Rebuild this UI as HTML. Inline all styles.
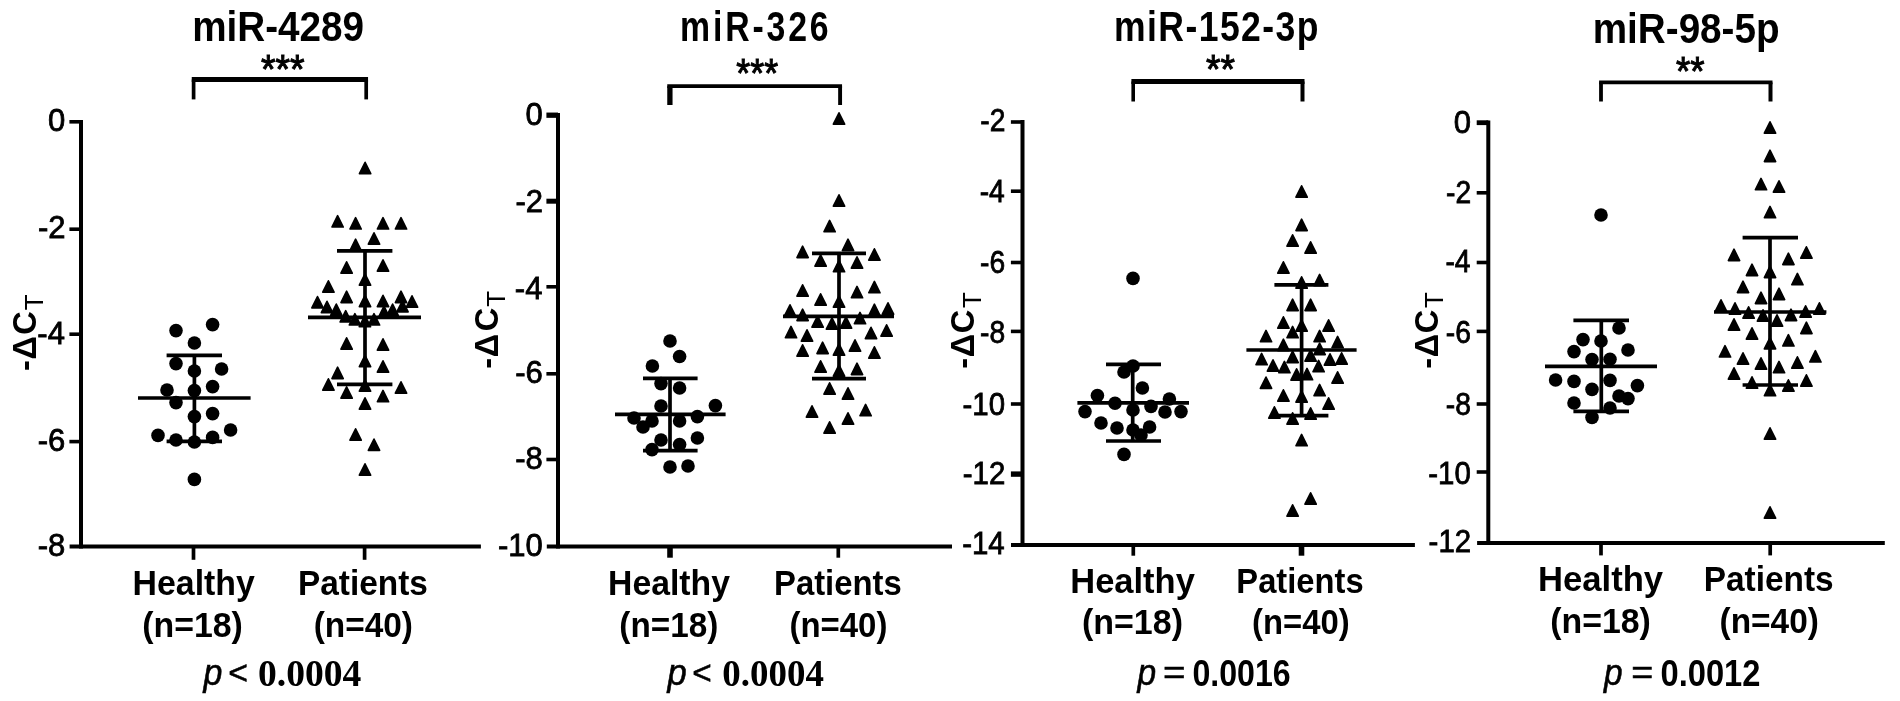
<!DOCTYPE html>
<html><head><meta charset="utf-8"><title>miRNA expression</title>
<style>
html,body{margin:0;padding:0;background:#fff;}
body{width:1900px;height:701px;overflow:hidden;}
svg{display:block;filter:blur(0.45px);}
svg text{font-kerning:none;fill:#000;}
svg line,svg path{stroke:#000;}
svg circle{fill:#000;stroke:none;}
svg path.t{stroke-width:1.6;stroke-linejoin:round;}
svg text.r{stroke:#000;stroke-width:0.8px;}
svg text.st{stroke:#000;stroke-width:2.5px;}
svg text.r2{stroke:#000;stroke-width:1.6px;}
</style></head><body>
<svg width="1900" height="701" viewBox="0 0 1900 701" fill="#000" stroke="none">
<rect x="0" y="0" width="1900" height="701" fill="#fff" stroke="none"/>
<g>
<line x1="81.00" y1="120.00" x2="81.00" y2="548.60" stroke-width="4.00"/>
<line x1="69.60" y1="546.60" x2="480.90" y2="546.60" stroke-width="4.00"/>
<line x1="69.40" y1="121.80" x2="81.00" y2="121.80" stroke-width="3.60"/>
<text transform="translate(47.97 130.65) scale(1.0000 1)" font-family='"Liberation Sans", sans-serif' font-weight="normal" font-style="normal" font-size="31.00" class="r">0</text>
<line x1="69.40" y1="229.20" x2="81.00" y2="229.20" stroke-width="3.60"/>
<text transform="translate(38.00 238.05) scale(1.0000 1)" font-family='"Liberation Sans", sans-serif' font-weight="normal" font-style="normal" font-size="31.00" class="r">-2</text>
<line x1="69.40" y1="334.20" x2="81.00" y2="334.20" stroke-width="3.60"/>
<text transform="translate(37.34 343.75) scale(1.0000 1)" font-family='"Liberation Sans", sans-serif' font-weight="normal" font-style="normal" font-size="31.00" class="r">-4</text>
<line x1="69.40" y1="441.60" x2="81.00" y2="441.60" stroke-width="3.60"/>
<text transform="translate(37.80 450.75) scale(1.0000 1)" font-family='"Liberation Sans", sans-serif' font-weight="normal" font-style="normal" font-size="31.00" class="r">-6</text>
<text transform="translate(37.78 555.95) scale(1.0000 1)" font-family='"Liberation Sans", sans-serif' font-weight="normal" font-style="normal" font-size="31.00" class="r">-8</text>
<line x1="193.50" y1="546.60" x2="193.50" y2="559.80" stroke-width="3.70"/>
<line x1="364.60" y1="546.60" x2="364.60" y2="559.80" stroke-width="3.70"/>
<text transform="translate(192.15 41.10) scale(0.9031 1)" font-family='"Liberation Sans", sans-serif' font-weight="bold" font-style="normal" font-size="42.80">miR-4289</text>
<text transform="translate(261.00 83.02) scale(0.3733 0.4130)" font-family='"Liberation Sans", sans-serif' font-weight="normal" font-style="normal" font-size="100" class="st">***</text>
<line x1="191.75" y1="79.50" x2="368.05" y2="79.50" stroke-width="5.00"/>
<line x1="193.60" y1="79.50" x2="193.60" y2="99.40" stroke-width="3.70"/>
<line x1="366.20" y1="79.50" x2="366.20" y2="99.40" stroke-width="3.70"/>
<text transform="translate(132.53 595.00) scale(0.9568 1)" font-family='"Liberation Sans", sans-serif' font-weight="bold" font-style="normal" font-size="35.40">Healthy</text>
<text transform="translate(142.21 636.60) scale(0.9565 1)" font-family='"Liberation Sans", sans-serif' font-weight="bold" font-style="normal" font-size="35.40">(n=18)</text>
<text transform="translate(297.97 595.00) scale(0.9433 1)" font-family='"Liberation Sans", sans-serif' font-weight="bold" font-style="normal" font-size="35.40">Patients</text>
<text transform="translate(313.64 636.60) scale(0.9437 1)" font-family='"Liberation Sans", sans-serif' font-weight="bold" font-style="normal" font-size="35.40">(n=40)</text>
<text transform="translate(203.54 685.03) scale(0.3389 0.3742)" font-family='"Liberation Sans", sans-serif' font-weight="normal" font-style="italic" font-size="100" class="r2">p</text>
<text transform="translate(228.14 684.13) scale(0.3376 0.3367)" font-family='"Liberation Sans", sans-serif' font-weight="normal" font-style="normal" font-size="100" class="r2">&lt;</text>
<text transform="translate(257.97 685.80) scale(0.9719 1)" font-family='"Liberation Serif", serif' font-weight="bold" font-style="normal" font-size="38.70">0.0004</text>
<text transform="translate(35.60 0) rotate(-90)" x="-370.96 -359.41 -334.79" y="0" font-family='"Liberation Sans", sans-serif' font-weight="bold" font-size="32.6">-ΔC<tspan class="r" x="-310.23" y="7.20" font-weight="normal" font-size="26.0">T</tspan></text>
<circle cx="176.00" cy="330.60" r="6.80"/>
<circle cx="212.60" cy="324.60" r="6.80"/>
<circle cx="194.40" cy="343.00" r="6.80"/>
<circle cx="176.00" cy="363.60" r="6.80"/>
<circle cx="194.40" cy="371.00" r="6.80"/>
<circle cx="221.60" cy="369.00" r="6.80"/>
<circle cx="167.00" cy="390.00" r="6.80"/>
<circle cx="194.40" cy="390.60" r="6.80"/>
<circle cx="212.60" cy="386.60" r="6.80"/>
<circle cx="176.00" cy="402.60" r="6.80"/>
<circle cx="194.40" cy="416.60" r="6.80"/>
<circle cx="212.60" cy="413.60" r="6.80"/>
<circle cx="230.60" cy="430.00" r="6.80"/>
<circle cx="158.00" cy="435.40" r="6.80"/>
<circle cx="176.00" cy="440.00" r="6.80"/>
<circle cx="194.40" cy="442.00" r="6.80"/>
<circle cx="212.60" cy="437.40" r="6.80"/>
<circle cx="194.40" cy="479.40" r="6.80"/>
<path class="t" d="M365.10 162.30L370.76 173.70L359.44 173.70Z"/>
<path class="t" d="M337.60 215.60L343.26 227.00L331.94 227.00Z"/>
<path class="t" d="M355.60 217.60L361.26 229.00L349.94 229.00Z"/>
<path class="t" d="M383.00 217.60L388.66 229.00L377.34 229.00Z"/>
<path class="t" d="M401.00 217.60L406.66 229.00L395.34 229.00Z"/>
<path class="t" d="M374.00 232.80L379.66 244.20L368.34 244.20Z"/>
<path class="t" d="M355.60 239.20L361.26 250.60L349.94 250.60Z"/>
<path class="t" d="M346.60 261.80L352.26 273.20L340.94 273.20Z"/>
<path class="t" d="M383.00 259.80L388.66 271.20L377.34 271.20Z"/>
<path class="t" d="M365.00 273.80L370.66 285.20L359.34 285.20Z"/>
<path class="t" d="M328.40 280.80L334.06 292.20L322.74 292.20Z"/>
<path class="t" d="M346.60 291.20L352.26 302.60L340.94 302.60Z"/>
<path class="t" d="M365.00 295.30L370.66 306.70L359.34 306.70Z"/>
<path class="t" d="M317.50 296.50L323.16 307.90L311.84 307.90Z"/>
<path class="t" d="M383.00 295.30L388.66 306.70L377.34 306.70Z"/>
<path class="t" d="M401.00 291.20L406.66 302.60L395.34 302.60Z"/>
<path class="t" d="M412.00 295.80L417.66 307.20L406.34 307.20Z"/>
<path class="t" d="M327.00 301.30L332.66 312.70L321.34 312.70Z"/>
<path class="t" d="M336.30 304.00L341.96 315.40L330.64 315.40Z"/>
<path class="t" d="M402.50 300.50L408.16 311.90L396.84 311.90Z"/>
<path class="t" d="M392.60 304.00L398.26 315.40L386.94 315.40Z"/>
<path class="t" d="M384.00 306.20L389.66 317.60L378.34 317.60Z"/>
<path class="t" d="M345.70 310.60L351.36 322.00L340.04 322.00Z"/>
<path class="t" d="M354.90 313.60L360.56 325.00L349.24 325.00Z"/>
<path class="t" d="M364.90 315.30L370.56 326.70L359.24 326.70Z"/>
<path class="t" d="M374.00 313.60L379.66 325.00L368.34 325.00Z"/>
<path class="t" d="M346.60 337.80L352.26 349.20L340.94 349.20Z"/>
<path class="t" d="M383.00 338.80L388.66 350.20L377.34 350.20Z"/>
<path class="t" d="M365.00 355.30L370.66 366.70L359.34 366.70Z"/>
<path class="t" d="M383.00 360.80L388.66 372.20L377.34 372.20Z"/>
<path class="t" d="M337.60 367.20L343.26 378.60L331.94 378.60Z"/>
<path class="t" d="M328.40 378.80L334.06 390.20L322.74 390.20Z"/>
<path class="t" d="M365.00 379.80L370.66 391.20L359.34 391.20Z"/>
<path class="t" d="M401.00 381.80L406.66 393.20L395.34 393.20Z"/>
<path class="t" d="M346.60 386.80L352.26 398.20L340.94 398.20Z"/>
<path class="t" d="M383.00 390.40L388.66 401.80L377.34 401.80Z"/>
<path class="t" d="M365.00 397.80L370.66 409.20L359.34 409.20Z"/>
<path class="t" d="M355.60 428.80L361.26 440.20L349.94 440.20Z"/>
<path class="t" d="M374.00 439.00L379.66 450.40L368.34 450.40Z"/>
<path class="t" d="M365.00 463.80L370.66 475.20L359.34 475.20Z"/>
<line x1="194.40" y1="355.40" x2="194.40" y2="441.40" stroke-width="3.70"/>
<line x1="166.60" y1="355.40" x2="222.00" y2="355.40" stroke-width="3.70"/>
<line x1="166.60" y1="441.40" x2="222.00" y2="441.40" stroke-width="3.70"/>
<line x1="138.00" y1="398.00" x2="250.60" y2="398.00" stroke-width="3.70"/>
<line x1="365.00" y1="250.80" x2="365.00" y2="384.40" stroke-width="3.70"/>
<line x1="337.00" y1="250.80" x2="392.40" y2="250.80" stroke-width="3.70"/>
<line x1="337.00" y1="384.40" x2="392.40" y2="384.40" stroke-width="3.70"/>
<line x1="308.00" y1="317.40" x2="421.00" y2="317.40" stroke-width="3.70"/>
</g>
<g>
<line x1="558.00" y1="113.00" x2="558.00" y2="548.60" stroke-width="4.00"/>
<line x1="546.80" y1="546.60" x2="952.00" y2="546.60" stroke-width="4.00"/>
<line x1="546.40" y1="115.20" x2="558.00" y2="115.20" stroke-width="5.30"/>
<text transform="translate(525.47 125.15) scale(1.0000 1)" font-family='"Liberation Sans", sans-serif' font-weight="normal" font-style="normal" font-size="31.00" class="r">0</text>
<line x1="546.40" y1="201.20" x2="558.00" y2="201.20" stroke-width="5.00"/>
<text transform="translate(515.50 211.75) scale(1.0000 1)" font-family='"Liberation Sans", sans-serif' font-weight="normal" font-style="normal" font-size="31.00" class="r">-2</text>
<line x1="546.40" y1="286.80" x2="558.00" y2="286.80" stroke-width="3.60"/>
<text transform="translate(514.84 298.55) scale(1.0000 1)" font-family='"Liberation Sans", sans-serif' font-weight="normal" font-style="normal" font-size="31.00" class="r">-4</text>
<line x1="546.40" y1="373.80" x2="558.00" y2="373.80" stroke-width="3.60"/>
<text transform="translate(515.30 382.65) scale(1.0000 1)" font-family='"Liberation Sans", sans-serif' font-weight="normal" font-style="normal" font-size="31.00" class="r">-6</text>
<line x1="546.40" y1="459.50" x2="558.00" y2="459.50" stroke-width="3.60"/>
<text transform="translate(515.28 469.05) scale(1.0000 1)" font-family='"Liberation Sans", sans-serif' font-weight="normal" font-style="normal" font-size="31.00" class="r">-8</text>
<text transform="translate(497.91 555.75) scale(1.0000 1)" font-family='"Liberation Sans", sans-serif' font-weight="normal" font-style="normal" font-size="31.00" class="r">-10</text>
<line x1="670.00" y1="546.60" x2="670.00" y2="557.70" stroke-width="5.60"/>
<line x1="838.30" y1="546.60" x2="838.30" y2="557.70" stroke-width="3.70"/>
<text transform="translate(679.97 41.20) scale(0.7900 1)" letter-spacing="3.629" font-family='"Liberation Sans", sans-serif' font-weight="bold" font-style="normal" font-size="42.80">miR-326</text>
<text transform="translate(736.32 86.62) scale(0.3575 0.4102)" font-family='"Liberation Sans", sans-serif' font-weight="normal" font-style="normal" font-size="100" class="st">***</text>
<line x1="667.25" y1="86.20" x2="842.05" y2="86.20" stroke-width="3.70"/>
<line x1="669.90" y1="86.20" x2="669.90" y2="105.00" stroke-width="5.30"/>
<line x1="840.10" y1="86.20" x2="840.10" y2="105.00" stroke-width="3.90"/>
<text transform="translate(608.04 594.80) scale(0.9536 1)" font-family='"Liberation Sans", sans-serif' font-weight="bold" font-style="normal" font-size="35.40">Healthy</text>
<text transform="translate(619.34 636.60) scale(0.9408 1)" font-family='"Liberation Sans", sans-serif' font-weight="bold" font-style="normal" font-size="35.40">(n=18)</text>
<text transform="translate(774.00 594.80) scale(0.9284 1)" font-family='"Liberation Sans", sans-serif' font-weight="bold" font-style="normal" font-size="35.40">Patients</text>
<text transform="translate(789.46 636.60) scale(0.9310 1)" font-family='"Liberation Sans", sans-serif' font-weight="bold" font-style="normal" font-size="35.40">(n=40)</text>
<text transform="translate(667.46 685.03) scale(0.3444 0.3742)" font-family='"Liberation Sans", sans-serif' font-weight="normal" font-style="italic" font-size="100" class="r2">p</text>
<text transform="translate(692.36 684.13) scale(0.3334 0.3367)" font-family='"Liberation Sans", sans-serif' font-weight="normal" font-style="normal" font-size="100" class="r2">&lt;</text>
<text transform="translate(722.29 685.80) scale(0.9546 1)" font-family='"Liberation Serif", serif' font-weight="bold" font-style="normal" font-size="38.70">0.0004</text>
<text transform="translate(498.10 0) rotate(-90)" x="-368.81 -357.31 -331.34" y="0" font-family='"Liberation Sans", sans-serif' font-weight="bold" font-size="32.6">-ΔC<tspan class="r" x="-306.63" y="7.30" font-weight="normal" font-size="26.0">T</tspan></text>
<circle cx="670.00" cy="341.00" r="6.80"/>
<circle cx="679.60" cy="356.50" r="6.80"/>
<circle cx="652.40" cy="366.00" r="6.80"/>
<circle cx="661.00" cy="383.60" r="6.80"/>
<circle cx="679.60" cy="388.00" r="6.80"/>
<circle cx="661.00" cy="406.00" r="6.80"/>
<circle cx="715.40" cy="405.60" r="6.80"/>
<circle cx="634.00" cy="418.00" r="6.80"/>
<circle cx="652.00" cy="421.00" r="6.80"/>
<circle cx="643.00" cy="427.00" r="6.80"/>
<circle cx="679.60" cy="421.00" r="6.80"/>
<circle cx="697.40" cy="416.60" r="6.80"/>
<circle cx="661.00" cy="440.00" r="6.80"/>
<circle cx="697.40" cy="438.00" r="6.80"/>
<circle cx="679.60" cy="444.60" r="6.80"/>
<circle cx="652.00" cy="449.60" r="6.80"/>
<circle cx="670.00" cy="467.00" r="6.80"/>
<circle cx="688.00" cy="466.00" r="6.80"/>
<path class="t" d="M839.00 112.80L844.66 124.20L833.34 124.20Z"/>
<path class="t" d="M839.00 194.80L844.66 206.20L833.34 206.20Z"/>
<path class="t" d="M829.60 220.40L835.26 231.80L823.94 231.80Z"/>
<path class="t" d="M848.00 239.20L853.66 250.60L842.34 250.60Z"/>
<path class="t" d="M802.60 246.20L808.26 257.60L796.94 257.60Z"/>
<path class="t" d="M874.40 248.80L880.06 260.20L868.74 260.20Z"/>
<path class="t" d="M820.60 254.80L826.26 266.20L814.94 266.20Z"/>
<path class="t" d="M857.00 256.80L862.66 268.20L851.34 268.20Z"/>
<path class="t" d="M839.00 260.40L844.66 271.80L833.34 271.80Z"/>
<path class="t" d="M802.60 284.80L808.26 296.20L796.94 296.20Z"/>
<path class="t" d="M874.40 281.40L880.06 292.80L868.74 292.80Z"/>
<path class="t" d="M857.00 286.40L862.66 297.80L851.34 297.80Z"/>
<path class="t" d="M820.60 293.80L826.26 305.20L814.94 305.20Z"/>
<path class="t" d="M839.00 295.80L844.66 307.20L833.34 307.20Z"/>
<path class="t" d="M790.00 304.80L795.66 316.20L784.34 316.20Z"/>
<path class="t" d="M888.00 302.80L893.66 314.20L882.34 314.20Z"/>
<path class="t" d="M802.60 309.20L808.26 320.60L796.94 320.60Z"/>
<path class="t" d="M874.40 304.20L880.06 315.60L868.74 315.60Z"/>
<path class="t" d="M860.00 312.40L865.66 323.80L854.34 323.80Z"/>
<path class="t" d="M817.60 315.80L823.26 327.20L811.94 327.20Z"/>
<path class="t" d="M832.00 317.80L837.66 329.20L826.34 329.20Z"/>
<path class="t" d="M846.00 316.80L851.66 328.20L840.34 328.20Z"/>
<path class="t" d="M791.00 326.40L796.66 337.80L785.34 337.80Z"/>
<path class="t" d="M807.00 329.80L812.66 341.20L801.34 341.20Z"/>
<path class="t" d="M871.00 327.30L876.66 338.70L865.34 338.70Z"/>
<path class="t" d="M886.60 324.80L892.26 336.20L880.94 336.20Z"/>
<path class="t" d="M802.60 344.80L808.26 356.20L796.94 356.20Z"/>
<path class="t" d="M822.60 342.20L828.26 353.60L816.94 353.60Z"/>
<path class="t" d="M839.00 343.80L844.66 355.20L833.34 355.20Z"/>
<path class="t" d="M855.00 339.80L860.66 351.20L849.34 351.20Z"/>
<path class="t" d="M874.40 346.80L880.06 358.20L868.74 358.20Z"/>
<path class="t" d="M820.60 360.80L826.26 372.20L814.94 372.20Z"/>
<path class="t" d="M839.00 364.80L844.66 376.20L833.34 376.20Z"/>
<path class="t" d="M857.00 363.20L862.66 374.60L851.34 374.60Z"/>
<path class="t" d="M829.60 382.80L835.26 394.20L823.94 394.20Z"/>
<path class="t" d="M848.00 387.80L853.66 399.20L842.34 399.20Z"/>
<path class="t" d="M812.00 405.80L817.66 417.20L806.34 417.20Z"/>
<path class="t" d="M865.60 404.40L871.26 415.80L859.94 415.80Z"/>
<path class="t" d="M848.00 412.80L853.66 424.20L842.34 424.20Z"/>
<path class="t" d="M829.60 421.80L835.26 433.20L823.94 433.20Z"/>
<line x1="670.00" y1="378.40" x2="670.00" y2="450.60" stroke-width="3.70"/>
<line x1="643.00" y1="378.40" x2="697.60" y2="378.40" stroke-width="3.70"/>
<line x1="643.00" y1="450.60" x2="697.60" y2="450.60" stroke-width="3.70"/>
<line x1="615.00" y1="414.40" x2="725.60" y2="414.40" stroke-width="3.70"/>
<line x1="839.00" y1="253.40" x2="839.00" y2="378.60" stroke-width="3.70"/>
<line x1="812.00" y1="253.40" x2="866.00" y2="253.40" stroke-width="3.70"/>
<line x1="812.00" y1="378.60" x2="866.00" y2="378.60" stroke-width="3.70"/>
<line x1="783.00" y1="316.40" x2="894.00" y2="316.40" stroke-width="3.70"/>
</g>
<g>
<line x1="1022.50" y1="120.10" x2="1022.50" y2="546.90" stroke-width="4.00"/>
<line x1="1011.00" y1="544.90" x2="1414.90" y2="544.90" stroke-width="4.00"/>
<line x1="1010.90" y1="122.00" x2="1022.50" y2="122.00" stroke-width="3.60"/>
<text transform="translate(980.24 130.65) scale(0.9100 1)" font-family='"Liberation Sans", sans-serif' font-weight="normal" font-style="normal" font-size="31.00" class="r">-2</text>
<line x1="1010.90" y1="191.20" x2="1022.50" y2="191.20" stroke-width="3.60"/>
<text transform="translate(979.64 202.35) scale(0.9100 1)" font-family='"Liberation Sans", sans-serif' font-weight="normal" font-style="normal" font-size="31.00" class="r">-4</text>
<line x1="1010.90" y1="262.50" x2="1022.50" y2="262.50" stroke-width="3.60"/>
<text transform="translate(980.06 272.75) scale(0.9100 1)" font-family='"Liberation Sans", sans-serif' font-weight="normal" font-style="normal" font-size="31.00" class="r">-6</text>
<line x1="1010.90" y1="331.40" x2="1022.50" y2="331.40" stroke-width="3.60"/>
<text transform="translate(980.04 342.95) scale(0.9100 1)" font-family='"Liberation Sans", sans-serif' font-weight="normal" font-style="normal" font-size="31.00" class="r">-8</text>
<line x1="1010.90" y1="404.00" x2="1022.50" y2="404.00" stroke-width="3.60"/>
<text transform="translate(962.49 414.75) scale(0.9500 1)" font-family='"Liberation Sans", sans-serif' font-weight="normal" font-style="normal" font-size="31.00" class="r">-10</text>
<line x1="1010.90" y1="474.10" x2="1022.50" y2="474.10" stroke-width="5.40"/>
<text transform="translate(962.82 484.15) scale(0.9500 1)" font-family='"Liberation Sans", sans-serif' font-weight="normal" font-style="normal" font-size="31.00" class="r">-12</text>
<text transform="translate(962.20 553.65) scale(0.9500 1)" font-family='"Liberation Sans", sans-serif' font-weight="normal" font-style="normal" font-size="31.00" class="r">-14</text>
<line x1="1133.30" y1="544.90" x2="1133.30" y2="555.70" stroke-width="3.70"/>
<line x1="1301.50" y1="544.90" x2="1301.50" y2="555.70" stroke-width="5.60"/>
<text transform="translate(1113.96 41.00) scale(0.8300 1)" letter-spacing="1.741" font-family='"Liberation Sans", sans-serif' font-weight="bold" font-style="normal" font-size="42.80">miR-152-3p</text>
<text transform="translate(1206.00 82.73) scale(0.3710 0.4045)" font-family='"Liberation Sans", sans-serif' font-weight="normal" font-style="normal" font-size="100" class="st">**</text>
<line x1="1131.40" y1="81.50" x2="1304.50" y2="81.50" stroke-width="5.00"/>
<line x1="1133.20" y1="81.50" x2="1133.20" y2="101.50" stroke-width="3.60"/>
<line x1="1302.50" y1="81.50" x2="1302.50" y2="101.50" stroke-width="4.00"/>
<text transform="translate(1070.29 593.40) scale(0.9743 1)" font-family='"Liberation Sans", sans-serif' font-weight="bold" font-style="normal" font-size="35.40">Healthy</text>
<text transform="translate(1081.91 634.40) scale(0.9605 1)" font-family='"Liberation Sans", sans-serif' font-weight="bold" font-style="normal" font-size="35.40">(n=18)</text>
<text transform="translate(1236.31 593.40) scale(0.9246 1)" font-family='"Liberation Sans", sans-serif' font-weight="bold" font-style="normal" font-size="35.40">Patients</text>
<text transform="translate(1252.07 634.40) scale(0.9270 1)" font-family='"Liberation Sans", sans-serif' font-weight="bold" font-style="normal" font-size="35.40">(n=40)</text>
<text transform="translate(1137.43 684.93) scale(0.3353 0.3742)" font-family='"Liberation Sans", sans-serif' font-weight="normal" font-style="italic" font-size="100" class="r2">p</text>
<text transform="translate(1163.12 684.03) scale(0.3849 0.3413)" font-family='"Liberation Sans", sans-serif' font-weight="normal" font-style="normal" font-size="100" class="r2">=</text>
<text transform="translate(1192.43 685.70) scale(0.8847 1)" font-family='"Liberation Sans", sans-serif' font-weight="bold" font-style="normal" font-size="36.30">0.0016</text>
<text transform="translate(973.80 0) rotate(-90)" x="-368.81 -357.31 -333.19" y="0" font-family='"Liberation Sans", sans-serif' font-weight="bold" font-size="32.6">-ΔC<tspan class="r" x="-308.03" y="7.30" font-weight="normal" font-size="26.0">T</tspan></text>
<circle cx="1133.00" cy="278.40" r="6.80"/>
<circle cx="1133.00" cy="366.00" r="6.80"/>
<circle cx="1124.00" cy="372.00" r="6.80"/>
<circle cx="1142.40" cy="388.00" r="6.80"/>
<circle cx="1097.40" cy="395.50" r="6.80"/>
<circle cx="1169.40" cy="399.00" r="6.80"/>
<circle cx="1115.00" cy="403.30" r="6.80"/>
<circle cx="1151.00" cy="406.40" r="6.80"/>
<circle cx="1085.00" cy="411.60" r="6.80"/>
<circle cx="1133.00" cy="410.00" r="6.80"/>
<circle cx="1165.00" cy="412.00" r="6.80"/>
<circle cx="1181.00" cy="411.60" r="6.80"/>
<circle cx="1101.00" cy="423.00" r="6.80"/>
<circle cx="1117.00" cy="428.00" r="6.80"/>
<circle cx="1149.60" cy="427.00" r="6.80"/>
<circle cx="1133.00" cy="430.00" r="6.80"/>
<circle cx="1141.00" cy="435.00" r="6.80"/>
<circle cx="1124.00" cy="454.40" r="6.80"/>
<path class="t" d="M1301.60 185.80L1307.26 197.20L1295.94 197.20Z"/>
<path class="t" d="M1301.60 219.20L1307.26 230.60L1295.94 230.60Z"/>
<path class="t" d="M1292.60 234.80L1298.26 246.20L1286.94 246.20Z"/>
<path class="t" d="M1310.60 241.80L1316.26 253.20L1304.94 253.20Z"/>
<path class="t" d="M1283.40 261.80L1289.06 273.20L1277.74 273.20Z"/>
<path class="t" d="M1301.60 276.80L1307.26 288.20L1295.94 288.20Z"/>
<path class="t" d="M1319.60 274.40L1325.26 285.80L1313.94 285.80Z"/>
<path class="t" d="M1292.60 299.20L1298.26 310.60L1286.94 310.60Z"/>
<path class="t" d="M1310.60 299.20L1316.26 310.60L1304.94 310.60Z"/>
<path class="t" d="M1283.40 316.80L1289.06 328.20L1277.74 328.20Z"/>
<path class="t" d="M1301.60 319.80L1307.26 331.20L1295.94 331.20Z"/>
<path class="t" d="M1328.60 319.80L1334.26 331.20L1322.94 331.20Z"/>
<path class="t" d="M1292.60 326.40L1298.26 337.80L1286.94 337.80Z"/>
<path class="t" d="M1266.00 330.40L1271.66 341.80L1260.34 341.80Z"/>
<path class="t" d="M1319.60 330.40L1325.26 341.80L1313.94 341.80Z"/>
<path class="t" d="M1283.40 339.20L1289.06 350.60L1277.74 350.60Z"/>
<path class="t" d="M1337.60 336.40L1343.26 347.80L1331.94 347.80Z"/>
<path class="t" d="M1319.60 343.20L1325.26 354.60L1313.94 354.60Z"/>
<path class="t" d="M1261.60 353.40L1267.26 364.80L1255.94 364.80Z"/>
<path class="t" d="M1292.60 351.20L1298.26 362.60L1286.94 362.60Z"/>
<path class="t" d="M1310.60 349.80L1316.26 361.20L1304.94 361.20Z"/>
<path class="t" d="M1330.00 353.80L1335.66 365.20L1324.34 365.20Z"/>
<path class="t" d="M1341.60 352.80L1347.26 364.20L1335.94 364.20Z"/>
<path class="t" d="M1273.00 359.80L1278.66 371.20L1267.34 371.20Z"/>
<path class="t" d="M1284.40 361.40L1290.06 372.80L1278.74 372.80Z"/>
<path class="t" d="M1318.60 360.40L1324.26 371.80L1312.94 371.80Z"/>
<path class="t" d="M1296.60 368.80L1302.26 380.20L1290.94 380.20Z"/>
<path class="t" d="M1307.00 368.40L1312.66 379.80L1301.34 379.80Z"/>
<path class="t" d="M1266.00 377.00L1271.66 388.40L1260.34 388.40Z"/>
<path class="t" d="M1337.60 371.80L1343.26 383.20L1331.94 383.20Z"/>
<path class="t" d="M1319.60 384.40L1325.26 395.80L1313.94 395.80Z"/>
<path class="t" d="M1283.40 389.80L1289.06 401.20L1277.74 401.20Z"/>
<path class="t" d="M1301.60 390.80L1307.26 402.20L1295.94 402.20Z"/>
<path class="t" d="M1328.60 397.80L1334.26 409.20L1322.94 409.20Z"/>
<path class="t" d="M1274.40 406.80L1280.06 418.20L1268.74 418.20Z"/>
<path class="t" d="M1310.60 407.80L1316.26 419.20L1304.94 419.20Z"/>
<path class="t" d="M1292.60 412.80L1298.26 424.20L1286.94 424.20Z"/>
<path class="t" d="M1301.60 434.40L1307.26 445.80L1295.94 445.80Z"/>
<path class="t" d="M1310.60 492.80L1316.26 504.20L1304.94 504.20Z"/>
<path class="t" d="M1292.60 504.80L1298.26 516.20L1286.94 516.20Z"/>
<line x1="1132.70" y1="364.40" x2="1132.70" y2="441.00" stroke-width="3.70"/>
<line x1="1106.00" y1="364.40" x2="1161.00" y2="364.40" stroke-width="3.70"/>
<line x1="1106.00" y1="441.00" x2="1161.00" y2="441.00" stroke-width="3.70"/>
<line x1="1077.40" y1="402.80" x2="1189.00" y2="402.80" stroke-width="3.70"/>
<line x1="1301.60" y1="284.80" x2="1301.60" y2="415.60" stroke-width="3.70"/>
<line x1="1274.40" y1="284.80" x2="1328.40" y2="284.80" stroke-width="3.70"/>
<line x1="1274.40" y1="415.60" x2="1328.40" y2="415.60" stroke-width="3.70"/>
<line x1="1246.40" y1="350.00" x2="1356.60" y2="350.00" stroke-width="3.70"/>
</g>
<g>
<line x1="1488.30" y1="120.40" x2="1488.30" y2="544.90" stroke-width="4.00"/>
<line x1="1477.10" y1="542.90" x2="1884.80" y2="542.90" stroke-width="4.00"/>
<line x1="1476.70" y1="122.70" x2="1488.30" y2="122.70" stroke-width="4.80"/>
<text transform="translate(1453.67 132.65) scale(1.0000 1)" font-family='"Liberation Sans", sans-serif' font-weight="normal" font-style="normal" font-size="31.00" class="r">0</text>
<line x1="1476.70" y1="192.80" x2="1488.30" y2="192.80" stroke-width="3.60"/>
<text transform="translate(1446.04 203.15) scale(0.9100 1)" font-family='"Liberation Sans", sans-serif' font-weight="normal" font-style="normal" font-size="31.00" class="r">-2</text>
<line x1="1476.70" y1="262.50" x2="1488.30" y2="262.50" stroke-width="3.60"/>
<text transform="translate(1445.44 271.85) scale(0.9100 1)" font-family='"Liberation Sans", sans-serif' font-weight="normal" font-style="normal" font-size="31.00" class="r">-4</text>
<line x1="1476.70" y1="331.40" x2="1488.30" y2="331.40" stroke-width="3.60"/>
<text transform="translate(1445.86 342.65) scale(0.9100 1)" font-family='"Liberation Sans", sans-serif' font-weight="normal" font-style="normal" font-size="31.00" class="r">-6</text>
<line x1="1476.70" y1="404.00" x2="1488.30" y2="404.00" stroke-width="3.60"/>
<text transform="translate(1445.84 415.45) scale(0.9100 1)" font-family='"Liberation Sans", sans-serif' font-weight="normal" font-style="normal" font-size="31.00" class="r">-8</text>
<line x1="1476.70" y1="472.00" x2="1488.30" y2="472.00" stroke-width="3.60"/>
<text transform="translate(1428.29 483.95) scale(0.9500 1)" font-family='"Liberation Sans", sans-serif' font-weight="normal" font-style="normal" font-size="31.00" class="r">-10</text>
<text transform="translate(1428.62 551.65) scale(0.9500 1)" font-family='"Liberation Sans", sans-serif' font-weight="normal" font-style="normal" font-size="31.00" class="r">-12</text>
<line x1="1601.00" y1="542.90" x2="1601.00" y2="555.40" stroke-width="3.70"/>
<line x1="1770.20" y1="542.90" x2="1770.20" y2="555.40" stroke-width="3.70"/>
<text transform="translate(1592.75 42.60) scale(0.9034 1)" font-family='"Liberation Sans", sans-serif' font-weight="bold" font-style="normal" font-size="42.80">miR-98-5p</text>
<text transform="translate(1676.01 85.02) scale(0.3670 0.4130)" font-family='"Liberation Sans", sans-serif' font-weight="normal" font-style="normal" font-size="100" class="st">**</text>
<line x1="1599.10" y1="82.40" x2="1772.50" y2="82.40" stroke-width="3.60"/>
<line x1="1601.00" y1="82.40" x2="1601.00" y2="101.50" stroke-width="3.80"/>
<line x1="1770.50" y1="82.40" x2="1770.50" y2="101.50" stroke-width="4.00"/>
<text transform="translate(1538.08 591.20) scale(0.9783 1)" font-family='"Liberation Sans", sans-serif' font-weight="bold" font-style="normal" font-size="35.40">Healthy</text>
<text transform="translate(1550.21 632.80) scale(0.9565 1)" font-family='"Liberation Sans", sans-serif' font-weight="bold" font-style="normal" font-size="35.40">(n=18)</text>
<text transform="translate(1703.77 591.20) scale(0.9433 1)" font-family='"Liberation Sans", sans-serif' font-weight="bold" font-style="normal" font-size="35.40">Patients</text>
<text transform="translate(1719.54 632.80) scale(0.9437 1)" font-family='"Liberation Sans", sans-serif' font-weight="bold" font-style="normal" font-size="35.40">(n=40)</text>
<text transform="translate(1604.03 684.83) scale(0.3334 0.3742)" font-family='"Liberation Sans", sans-serif' font-weight="normal" font-style="italic" font-size="100" class="r2">p</text>
<text transform="translate(1631.36 683.93) scale(0.3767 0.3413)" font-family='"Liberation Sans", sans-serif' font-weight="normal" font-style="normal" font-size="100" class="r2">=</text>
<text transform="translate(1660.51 685.60) scale(0.9007 1)" font-family='"Liberation Sans", sans-serif' font-weight="bold" font-style="normal" font-size="36.30">0.0012</text>
<text transform="translate(1438.00 0) rotate(-90)" x="-368.81 -357.31 -333.34" y="0" font-family='"Liberation Sans", sans-serif' font-weight="bold" font-size="32.6">-ΔC<tspan class="r" x="-308.03" y="5.20" font-weight="normal" font-size="26.0">T</tspan></text>
<circle cx="1601.00" cy="215.00" r="6.80"/>
<circle cx="1619.00" cy="328.00" r="6.80"/>
<circle cx="1583.00" cy="339.60" r="6.80"/>
<circle cx="1601.00" cy="341.00" r="6.80"/>
<circle cx="1574.00" cy="351.60" r="6.80"/>
<circle cx="1628.00" cy="350.00" r="6.80"/>
<circle cx="1592.00" cy="359.50" r="6.80"/>
<circle cx="1610.00" cy="359.30" r="6.80"/>
<circle cx="1555.60" cy="380.00" r="6.80"/>
<circle cx="1574.00" cy="381.40" r="6.80"/>
<circle cx="1610.00" cy="380.40" r="6.80"/>
<circle cx="1637.40" cy="385.60" r="6.80"/>
<circle cx="1592.00" cy="389.40" r="6.80"/>
<circle cx="1619.00" cy="396.00" r="6.80"/>
<circle cx="1628.00" cy="398.60" r="6.80"/>
<circle cx="1574.00" cy="403.00" r="6.80"/>
<circle cx="1610.00" cy="408.00" r="6.80"/>
<circle cx="1592.00" cy="417.40" r="6.80"/>
<path class="t" d="M1770.00 121.80L1775.66 133.20L1764.34 133.20Z"/>
<path class="t" d="M1770.00 150.20L1775.66 161.60L1764.34 161.60Z"/>
<path class="t" d="M1761.00 178.40L1766.66 189.80L1755.34 189.80Z"/>
<path class="t" d="M1779.00 180.80L1784.66 192.20L1773.34 192.20Z"/>
<path class="t" d="M1770.00 206.40L1775.66 217.80L1764.34 217.80Z"/>
<path class="t" d="M1734.00 249.20L1739.66 260.60L1728.34 260.60Z"/>
<path class="t" d="M1806.40 246.80L1812.06 258.20L1800.74 258.20Z"/>
<path class="t" d="M1788.40 253.20L1794.06 264.60L1782.74 264.60Z"/>
<path class="t" d="M1752.00 264.20L1757.66 275.60L1746.34 275.60Z"/>
<path class="t" d="M1770.00 266.20L1775.66 277.60L1764.34 277.60Z"/>
<path class="t" d="M1797.40 273.40L1803.06 284.80L1791.74 284.80Z"/>
<path class="t" d="M1743.00 281.20L1748.66 292.60L1737.34 292.60Z"/>
<path class="t" d="M1779.00 288.20L1784.66 299.60L1773.34 299.60Z"/>
<path class="t" d="M1761.00 292.20L1766.66 303.60L1755.34 303.60Z"/>
<path class="t" d="M1721.00 299.80L1726.66 311.20L1715.34 311.20Z"/>
<path class="t" d="M1819.40 302.80L1825.06 314.20L1813.74 314.20Z"/>
<path class="t" d="M1735.00 302.80L1740.66 314.20L1729.34 314.20Z"/>
<path class="t" d="M1805.60 305.80L1811.26 317.20L1799.94 317.20Z"/>
<path class="t" d="M1748.60 306.80L1754.26 318.20L1742.94 318.20Z"/>
<path class="t" d="M1791.00 309.20L1796.66 320.60L1785.34 320.60Z"/>
<path class="t" d="M1763.00 309.80L1768.66 321.20L1757.34 321.20Z"/>
<path class="t" d="M1777.00 314.80L1782.66 326.20L1771.34 326.20Z"/>
<path class="t" d="M1734.00 318.80L1739.66 330.20L1728.34 330.20Z"/>
<path class="t" d="M1806.40 322.20L1812.06 333.60L1800.74 333.60Z"/>
<path class="t" d="M1752.00 327.80L1757.66 339.20L1746.34 339.20Z"/>
<path class="t" d="M1788.40 334.60L1794.06 346.00L1782.74 346.00Z"/>
<path class="t" d="M1770.00 337.50L1775.66 348.90L1764.34 348.90Z"/>
<path class="t" d="M1725.00 345.60L1730.66 357.00L1719.34 357.00Z"/>
<path class="t" d="M1815.40 350.60L1821.06 362.00L1809.74 362.00Z"/>
<path class="t" d="M1743.00 352.80L1748.66 364.20L1737.34 364.20Z"/>
<path class="t" d="M1797.40 356.80L1803.06 368.20L1791.74 368.20Z"/>
<path class="t" d="M1761.00 357.80L1766.66 369.20L1755.34 369.20Z"/>
<path class="t" d="M1779.00 361.40L1784.66 372.80L1773.34 372.80Z"/>
<path class="t" d="M1734.00 367.80L1739.66 379.20L1728.34 379.20Z"/>
<path class="t" d="M1806.40 374.80L1812.06 386.20L1800.74 386.20Z"/>
<path class="t" d="M1752.00 376.80L1757.66 388.20L1746.34 388.20Z"/>
<path class="t" d="M1788.40 379.80L1794.06 391.20L1782.74 391.20Z"/>
<path class="t" d="M1770.00 384.40L1775.66 395.80L1764.34 395.80Z"/>
<path class="t" d="M1770.00 427.80L1775.66 439.20L1764.34 439.20Z"/>
<path class="t" d="M1770.00 506.80L1775.66 518.20L1764.34 518.20Z"/>
<line x1="1601.30" y1="320.40" x2="1601.30" y2="411.40" stroke-width="3.70"/>
<line x1="1573.40" y1="320.40" x2="1629.00" y2="320.40" stroke-width="3.70"/>
<line x1="1573.40" y1="411.40" x2="1629.00" y2="411.40" stroke-width="3.70"/>
<line x1="1545.00" y1="366.40" x2="1657.00" y2="366.40" stroke-width="3.70"/>
<line x1="1770.00" y1="237.60" x2="1770.00" y2="385.00" stroke-width="3.70"/>
<line x1="1742.60" y1="237.60" x2="1798.00" y2="237.60" stroke-width="3.70"/>
<line x1="1742.60" y1="385.00" x2="1798.00" y2="385.00" stroke-width="3.70"/>
<line x1="1714.00" y1="312.00" x2="1826.40" y2="312.00" stroke-width="3.70"/>
</g>
</svg>
</body></html>
